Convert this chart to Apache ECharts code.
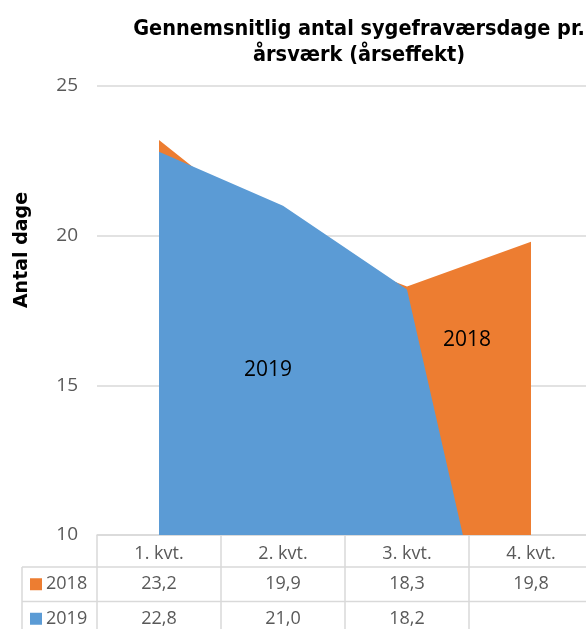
<!DOCTYPE html>
<html>
<head>
<meta charset="utf-8">
<script src="https://cdn.jsdelivr.net/npm/echarts@6/dist/echarts.min.js"></script>
<style>html,body{margin:0;padding:0;background:#fff;}#c{width:586px;height:629px;}</style>
</head>
<body>
<div id="c"></div>
<script>
var categories = ['1. kvt.', '2. kvt.', '3. kvt.', '4. kvt.'];
var seriesNames = ['2018', '2019'];
var values2018 = [23.2, 19.9, 18.3, 19.8];
var values2019 = [22.8, 21.0, 18.2, null];
var yTicks = [10, 15, 20, 25];

var ORANGE = '#ED7D31', BLUE = '#5B9BD5', GRID = '#d9d9d9', TXT = '#595959';
var chart = echarts.init(document.getElementById('c'), null, {renderer: 'canvas'});

function fmt(v) { return v == null ? '' : v.toFixed(1).replace('.', ','); }
// Excel "show empty cells as zero"
function plotVals(arr) { return arr.map(function (v) { return v == null ? 0 : v; }); }

chart.setOption({
  animation: false,
  title: {
    text: 'Gennemsnitlig antal sygefraværsdage pr.\nårsværk (årseffekt)',
    left: 354, top: 11, textAlign: 'center',
    textStyle: {fontFamily: 'DejaVu Sans Condensed', fontWeight: 'bold', fontSize: 21.5, color: '#000', lineHeight: 26}
  },
  grid: {left: 97, width: 496, top: 86, bottom: 94, outerBoundsMode: 'none', containLabel: false},
  xAxis: {
    type: 'category', data: categories, boundaryGap: true,
    axisLine: {show: true, lineStyle: {color: GRID, width: 1.5}},
    axisTick: {show: false},
    axisLabel: {color: TXT, fontFamily: 'Open Sans', fontSize: 18, margin: 10}
  },
  yAxis: {
    type: 'value', min: yTicks[0], max: yTicks[yTicks.length - 1], interval: 5,
    axisLine: {show: false}, axisTick: {show: false},
    axisLabel: {color: TXT, fontFamily: 'Open Sans', fontSize: 19, margin: 19},
    splitLine: {lineStyle: {color: GRID, width: 1.5}}
  },
  series: [
    {name: seriesNames[0], type: 'line', data: plotVals(values2018), showSymbol: false,
     lineStyle: {width: 0}, areaStyle: {color: ORANGE, opacity: 1}, color: ORANGE, clip: true, z: 2},
    {name: seriesNames[1], type: 'line', data: plotVals(values2019), showSymbol: false,
     lineStyle: {width: 0}, areaStyle: {color: BLUE, opacity: 1}, color: BLUE, clip: true, z: 3}
  ]
});

// Data table + in-chart labels built from arrays
var g = [];
var colX = categories.map(function (c) { return chart.convertToPixel({xAxisIndex: 0}, c); });
var half = (colX[1] - colX[0]) / 2;
var tableTop = chart.convertToPixel({yAxisIndex: 0}, yTicks[0]);
var rowH = 34.5, headH = 32;
var leftX = 22;
var lineStyle = {stroke: GRID, lineWidth: 1.5};
for (var i = 0; i < categories.length; i++) {
  var bx = colX[i] - half;
  g.push({type: 'line', shape: {x1: bx, y1: tableTop, x2: bx, y2: 640}, style: lineStyle, z: 10});
}
g.push({type: 'line', shape: {x1: leftX, y1: tableTop + headH, x2: leftX, y2: 640}, style: lineStyle, z: 10});
for (var r = 0; r < 2; r++) {
  var yy = tableTop + headH + r * rowH;
  g.push({type: 'line', shape: {x1: leftX, y1: yy, x2: 600, y2: yy}, style: lineStyle, z: 10});
}
var rows = [values2018, values2019];
var colors = [ORANGE, BLUE];
for (var r = 0; r < rows.length; r++) {
  var cy = tableTop + headH + r * rowH + rowH / 2;
  g.push({type: 'rect', shape: {x: 30, y: cy - 6, width: 12, height: 12}, style: {fill: colors[r]}, z: 10});
  g.push({type: 'text', x: 46, y: cy, style: {text: seriesNames[r], fill: TXT, font: '18px "Open Sans"', textVerticalAlign: 'middle'}, z: 10});
  for (var i = 0; i < categories.length; i++) {
    g.push({type: 'text', x: colX[i], y: cy, style: {text: fmt(rows[r][i]), fill: TXT, font: '18px "Open Sans"', textAlign: 'center', textVerticalAlign: 'middle'}, z: 10});
  }
}
// y axis title
g.push({type: 'text', x: 22, y: 250, rotation: Math.PI / 2,
  style: {text: 'Antal dage', fill: '#000', font: 'bold 19px "DejaVu Sans"', textAlign: 'center', textVerticalAlign: 'middle'}, z: 10});
// in-area series labels
g.push({type: 'text', x: 268, y: 370, style: {text: seriesNames[1], fill: '#000', font: '21px "Open Sans"', textAlign: 'center', textVerticalAlign: 'middle'}, z: 10});
g.push({type: 'text', x: 467, y: 340, style: {text: seriesNames[0], fill: '#000', font: '21px "Open Sans"', textAlign: 'center', textVerticalAlign: 'middle'}, z: 10});
chart.setOption({graphic: g});
</script>
</body>
</html>
